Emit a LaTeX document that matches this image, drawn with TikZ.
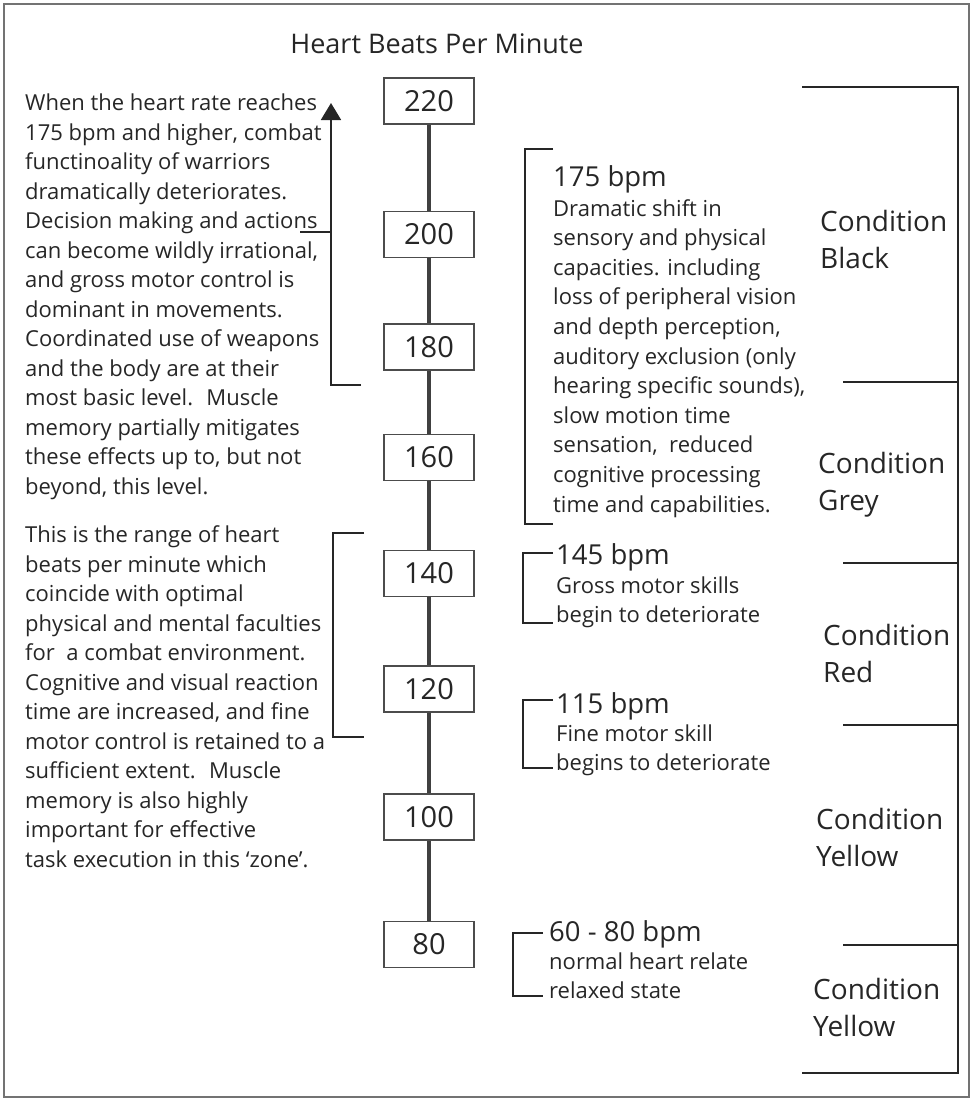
\documentclass[tikz,border=0pt]{standalone}
\usepackage{fontspec}
\setmainfont{Open Sans}
\usetikzlibrary{arrows.meta}

\begin{document}
\begin{tikzpicture}[x=1pt,y=-1pt,
    ratebox/.style={rectangle, draw=black!70, line width=1.6pt, fill=white, minimum width=90pt, minimum height=46pt, inner sep=0pt, text=black!85, font=\fontsize{29}{30}\selectfont},
    notetext/.style={anchor=base west, align=left, inner sep=0pt, text=black!85, font=\fontsize{22}{29.5}\selectfont},
    sidetext/.style={anchor=base west, align=left, inner sep=0pt, text=black!85, font=\fontsize{22}{29.6}\selectfont},
    condtext/.style={anchor=base west, align=left, inner sep=0pt, text=black!85, font=\fontsize{28}{36.5}\selectfont}
    ]
    \tikzset{axisline/.style={draw=black!75, line width=4pt}}
    \tikzset{bracketline/.style={draw=black!85, line width=2.2pt}}
    \tikzset{thinline/.style={draw=black!85, line width=1.8pt}}
    \newcommand{\bpm}[1]{{\fontsize{27.5}{29}\selectfont #1}}
    %
    %frame
    %
    \useasboundingbox (0,0) rectangle (970,1108);
    \draw[black!55, line width=1.3pt] (4,4) rectangle (969,1097);
    \node[anchor=base, inner sep=0pt, text=black!85, font=\fontsize{27}{30}\selectfont] (title) at (437,54) {Heart Beats Per Minute};
    %
    %rate boxes
    %
    \node[ratebox] (220) at (429,101) {220};
    \node[ratebox] (200) at (429,234.5) {200};
    \node[ratebox] (180) at (429,347) {180};
    \node[ratebox] (160) at (429,457.5) {160};
    \node[ratebox] (140) at (429,573.5) {140};
    \node[ratebox] (120) at (429,689) {120};
    \node[ratebox] (100) at (429,817) {100};
    \node[ratebox] (80) at (429,944.5) {80};
    \foreach \a/\b in {220/200,200/180,180/160,160/140,140/120,120/100,100/80}
        \draw[axisline] (\a.south) -- (\b.north);
    %
    %left notes (placed at the baseline of their last line)
    %
    \node[notetext] (highnote) at (25,494) {When the heart rate reaches\\175 bpm and higher, combat\\functinoality of warriors\\dramatically deteriorates.\\Decision making and actions\\can become wildly irrational,\\and gross motor control is\\dominant in movements.\\Coordinated use of weapons\\and the body are at their\\most basic level.~ Muscle\\memory partially mitigates\\these effects up to, but not\\beyond, this level.};
    \node[notetext] (zonenote) at (25,867) {This is the range of heart\\beats per minute which\\coincide with optimal\\physical and mental faculties\\for~ a combat environment.\\Cognitive and visual reaction\\time are increased, and fine\\motor control is retained to a\\sufficient extent.~ Muscle\\memory is also highly\\important for effective\\task execution in this ‘zone’.};
    \coordinate (arrowfoot) at (361,385);
    \coordinate (arrowbend) at (331,385);
    \coordinate (arrowtip) at (331,103);
    \coordinate (ticka) at (300,232);
    \coordinate (tickb) at (331,232);
    \draw[thinline, -{Triangle[width=20pt,length=17pt]}] (arrowfoot) -- (arrowbend) -- (arrowtip);
    \draw[thinline] (ticka) -- (tickb);
    \draw[bracketline] (364,533) -- ++(-31,0) -- ++(0,204) -- ++(31,0);
    %
    %right notes
    %
    \node[sidetext] (note175) at (553,512) {\bpm{175 bpm}\\Dramatic shift in\\sensory and physical\\capacities. including\\loss of peripheral vision\\and depth perception,\\auditory exclusion (only\\hearing specific sounds),\\slow motion time\\sensation,~ reduced\\cognitive processing\\time and capabilities.};
    \node[sidetext, font=\fontsize{22}{29}\selectfont] (note145) at (556,622) {\bpm{145 bpm}\\Gross motor skills\\begin to deteriorate};
    \node[sidetext, font=\fontsize{22}{28.5}\selectfont] (note115) at (556,770) {\bpm{115 bpm}\\Fine motor skill\\begins to deteriorate};
    \node[sidetext, font=\fontsize{22}{28.5}\selectfont] (note80) at (549,998) {\bpm{60 - 80 bpm}\\normal heart relate\\relaxed state};
    \draw[bracketline] (553,149) -- ++(-28,0) -- ++(0,375) -- ++(28,0);
    \draw[bracketline] (553,553) -- ++(-30,0) -- ++(0,70) -- ++(30,0);
    \draw[bracketline] (553,700) -- ++(-30,0) -- ++(0,68) -- ++(30,0);
    \draw[bracketline] (543,933) -- ++(-30,0) -- ++(0,63) -- ++(30,0);
    %
    %conditions
    %
    \node[condtext] (black) at (820,268) {Condition\\Black};
    \node[condtext] (grey) at (818,510) {Condition\\Grey};
    \node[condtext] (red) at (823,682) {Condition\\Red};
    \node[condtext] (yellowa) at (816,866) {Condition\\Yellow};
    \node[condtext] (yellowb) at (813,1036) {Condition\\Yellow};
    \draw[bracketline] (802,87) -- (958,87) -- (958,1073) -- (802,1073);
    \foreach \y in {382,563,725,945}
        \draw[thinline] (843,\y) -- (958,\y);
\end{tikzpicture}
\end{document}
